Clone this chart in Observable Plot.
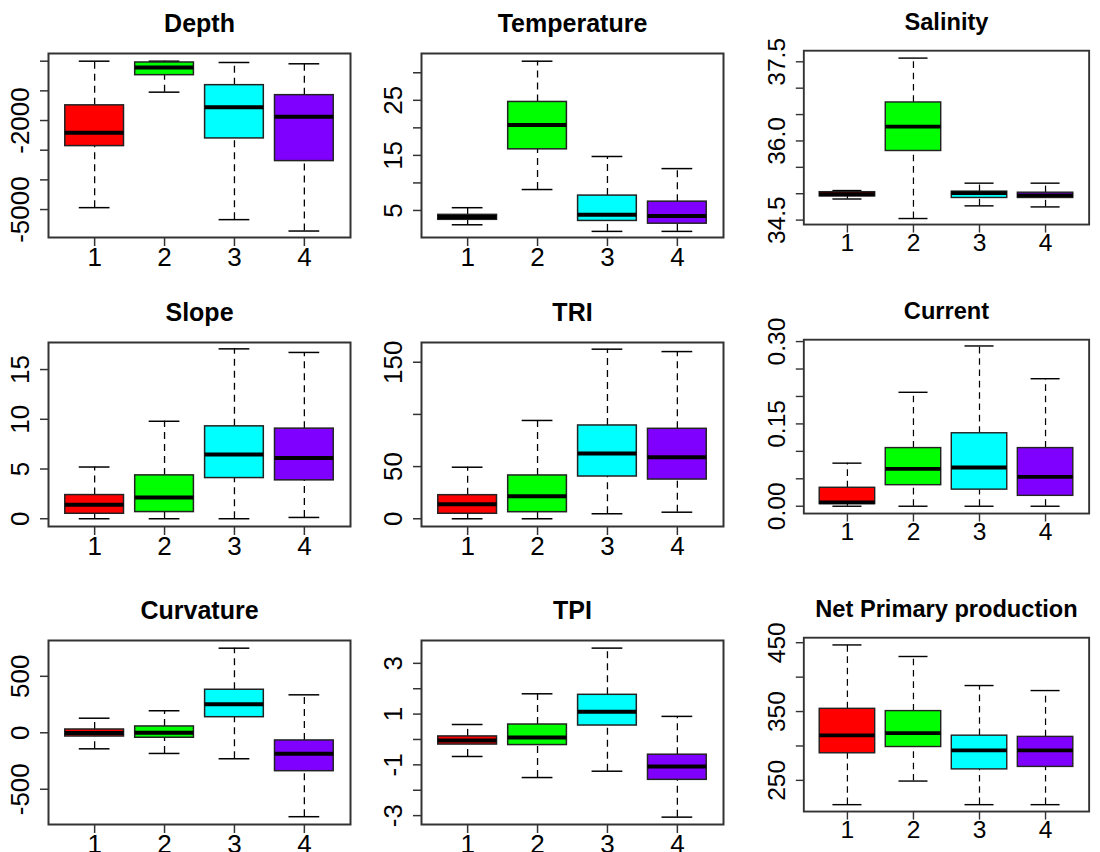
<!DOCTYPE html>
<html><head><meta charset="utf-8">
<script src="https://cdn.jsdelivr.net/npm/d3@7"></script>
<script src="https://cdn.jsdelivr.net/npm/@observablehq/plot@0.6"></script>
<style>
html,body{margin:0;padding:0;background:#fff;overflow:hidden}
#wrap{position:relative;width:1100px;height:852px;overflow:hidden;background:#fff}
#wrap > div{position:absolute}
</style></head><body><div id="wrap"></div>
<script>
const groups = [1, 2, 3, 4];
const groupColors = ["#FF0000", "#00FF00", "#00FFFF", "#8000FF"];

// each row: [lower whisker, Q1, median, Q3, upper whisker] for groups 1..4
const depth = [[-4936, -2862, -2411, -1488, 0], [-1044, -471, -212, -44, 0], [-5340, -2603, -1549, -808, -44], [-5724, -3367, -1872, -1145, -88]];
const temperature = [[2.4, 3.3, 3.8, 4.2, 5.5], [8.8, 16.1, 20.5, 24.7, 32.1], [1.2, 3.1, 4.2, 7.7, 14.8], [1.2, 2.6, 4.0, 6.6, 12.6]];
const salinity = [[34.90, 34.95, 34.99, 35.03, 35.06], [34.53, 35.81, 36.27, 36.73, 37.57], [34.77, 34.92, 35.01, 35.04, 35.20], [34.75, 34.92, 34.97, 35.02, 35.20]];
const slope = [[0, 0.5, 1.41, 2.38, 5.2], [0, 0.67, 2.14, 4.36, 9.8], [0, 4.09, 6.47, 9.29, 17.08], [0.13, 3.86, 6.1, 9.06, 16.72]];
const tri = [[0, 4.8, 14.0, 22.6, 49.4], [0, 6.3, 21.7, 41.5, 94.2], [4.8, 40.5, 62.5, 89.4, 162.5], [6.3, 37.6, 59.0, 86.2, 160.2]];
const current = [[0, 0.004, 0.007, 0.0337, 0.0785], [0, 0.0384, 0.068, 0.106, 0.2076], [0, 0.0303, 0.0706, 0.133, 0.292], [0, 0.019, 0.0534, 0.106, 0.2323]];
const curvature = [[-142, -33, -3, 29, 129], [-183, -44, 0, 56, 195], [-230, 138, 253, 381, 749], [-743, -340, -186, -68, 336]];
const tpi = [[-0.67, -0.2, -0.04, 0.12, 0.59], [-1.5, -0.22, 0.08, 0.59, 1.8], [-1.25, 0.55, 1.09, 1.76, 3.6], [-3.06, -1.59, -1.06, -0.6, 0.91]];
const npp = [[214.7, 289.4, 315.5, 354, 446.8], [249, 298.5, 318.7, 350.7, 430], [214.7, 266, 293.5, 315, 387.8], [214.7, 269.6, 293.5, 313.2, 380.5]];

const titles = ["Depth", "Temperature", "Salinity", "Slope", "TRI", "Current", "Curvature", "TPI", "Net Primary production"];

const depthTicks = [0, -1000, -2000, -3000, -4000, -5000];
const depthLabels = ["", "", "-2000", "", "", "-5000"];
const temperatureTicks = [5, 10, 15, 20, 25, 30];
const temperatureLabels = ["5", "", "15", "", "25", ""];
const salinityTicks = [34.5, 35, 35.5, 36, 36.5, 37, 37.5];
const salinityLabels = ["34.5", "", "", "36.0", "", "", "37.5"];
const slopeTicks = [0, 5, 10, 15];
const slopeLabels = ["0", "5", "10", "15"];
const triTicks = [0, 50, 100, 150];
const triLabels = ["0", "50", "", "150"];
const currentTicks = [0, 0.05, 0.10, 0.15, 0.20, 0.25, 0.30];
const currentLabels = ["0.00", "", "", "0.15", "", "", "0.30"];
const curvatureTicks = [-500, 0, 500];
const curvatureLabels = ["-500", "0", "500"];
const tpiTicks = [-3, -2, -1, 0, 1, 2, 3];
const tpiLabels = ["-3", "", "-1", "", "1", "", "3"];
const nppTicks = [250, 300, 350, 400, 450];
const nppLabels = ["250", "", "350", "", "450"];

const yDomains = [[-5942, 259], [0.09, 33.5], [34.416, 37.71], [-0.78, 17.72], [-7.4, 168.9], [-0.0133, 0.3034], [-812, 817], [-3.35, 3.9], [204.7, 457.3]];

const panels = [
  [depth, depthTicks, depthLabels],
  [temperature, temperatureTicks, temperatureLabels],
  [salinity, salinityTicks, salinityLabels],
  [slope, slopeTicks, slopeLabels],
  [tri, triTicks, triLabels],
  [current, currentTicks, currentLabels],
  [curvature, curvatureTicks, curvatureLabels],
  [tpi, tpiTicks, tpiLabels],
  [npp, nppTicks, nppLabels]
];

const frameX = [48, 421, 806];
const frameY = [53, 342, 640];
const mL = 48, mT = 50, mR = 12, mB = 40, fw = 302, fh = 184;
const BW = 0.42, SW = 0.22;

const wrap = document.getElementById("wrap");
panels.forEach(([stats, ticks, labels], k) => {
  const rows = stats.map((s, i) => ({g: groups[i], lo: s[0], q1: s[1], med: s[2], q3: s[3], hi: s[4]}));
  const labelMap = new Map(ticks.map((t, i) => [t, labels[i]]));
  const chart = Plot.plot({
    width: mL + fw + mR,
    height: mT + fh + mB,
    marginLeft: mL, marginTop: mT, marginRight: mR, marginBottom: mB,
    style: {fontFamily: "'Liberation Sans', Arial, sans-serif", color: "black", background: "transparent", overflow: "visible"},
    x: {type: "linear", domain: [0.34, 4.66]},
    y: {domain: yDomains[k]},
    color: {type: "ordinal", domain: groups, range: groupColors},
    marks: [
      Plot.ruleX(rows, {x: "g", y1: "q3", y2: "hi", stroke: "black", strokeWidth: 1.3, strokeDasharray: "7,5"}),
      Plot.ruleX(rows, {x: "g", y1: "lo", y2: "q1", stroke: "black", strokeWidth: 1.3, strokeDasharray: "7,5"}),
      Plot.ruleY(rows, {y: "hi", x1: d => d.g - SW, x2: d => d.g + SW, stroke: "black", strokeWidth: 1.5}),
      Plot.ruleY(rows, {y: "lo", x1: d => d.g - SW, x2: d => d.g + SW, stroke: "black", strokeWidth: 1.5}),
      Plot.rect(rows, {x1: d => d.g - BW, x2: d => d.g + BW, y1: "q1", y2: "q3", fill: "g", stroke: "#222", strokeWidth: 1.5}),
      Plot.ruleY(rows, {y: "med", x1: d => d.g - BW, x2: d => d.g + BW, stroke: "black", strokeWidth: 4}),
      Plot.frame({stroke: "#333", strokeWidth: 2}),
      Plot.axisX({ticks: groups, tickFormat: d => String(d), tickSize: 9, tickPadding: 1, fontSize: 26, label: null, stroke: "#333", strokeWidth: 1.5}),
      Plot.axisY({ticks: ticks, tickFormat: d => labelMap.get(d) ?? "", tickRotate: -90, tickSize: 8, tickPadding: 12, fontSize: 26, label: null, stroke: "#333", strokeWidth: 1.5}),
      Plot.text([titles[k]], {frameAnchor: "top", dy: -30, lineAnchor: "middle", fontSize: 25, fontWeight: "bold", fill: "black"})
    ]
  });
  const holder = document.createElement("div");
  const c = k % 3, r = Math.floor(k / 3);
  holder.style.left = (frameX[c] - mL) + "px";
  holder.style.top = (frameY[r] - mT) + "px";
  holder.appendChild(chart);
  wrap.appendChild(holder);
});
</script>
</body></html>
